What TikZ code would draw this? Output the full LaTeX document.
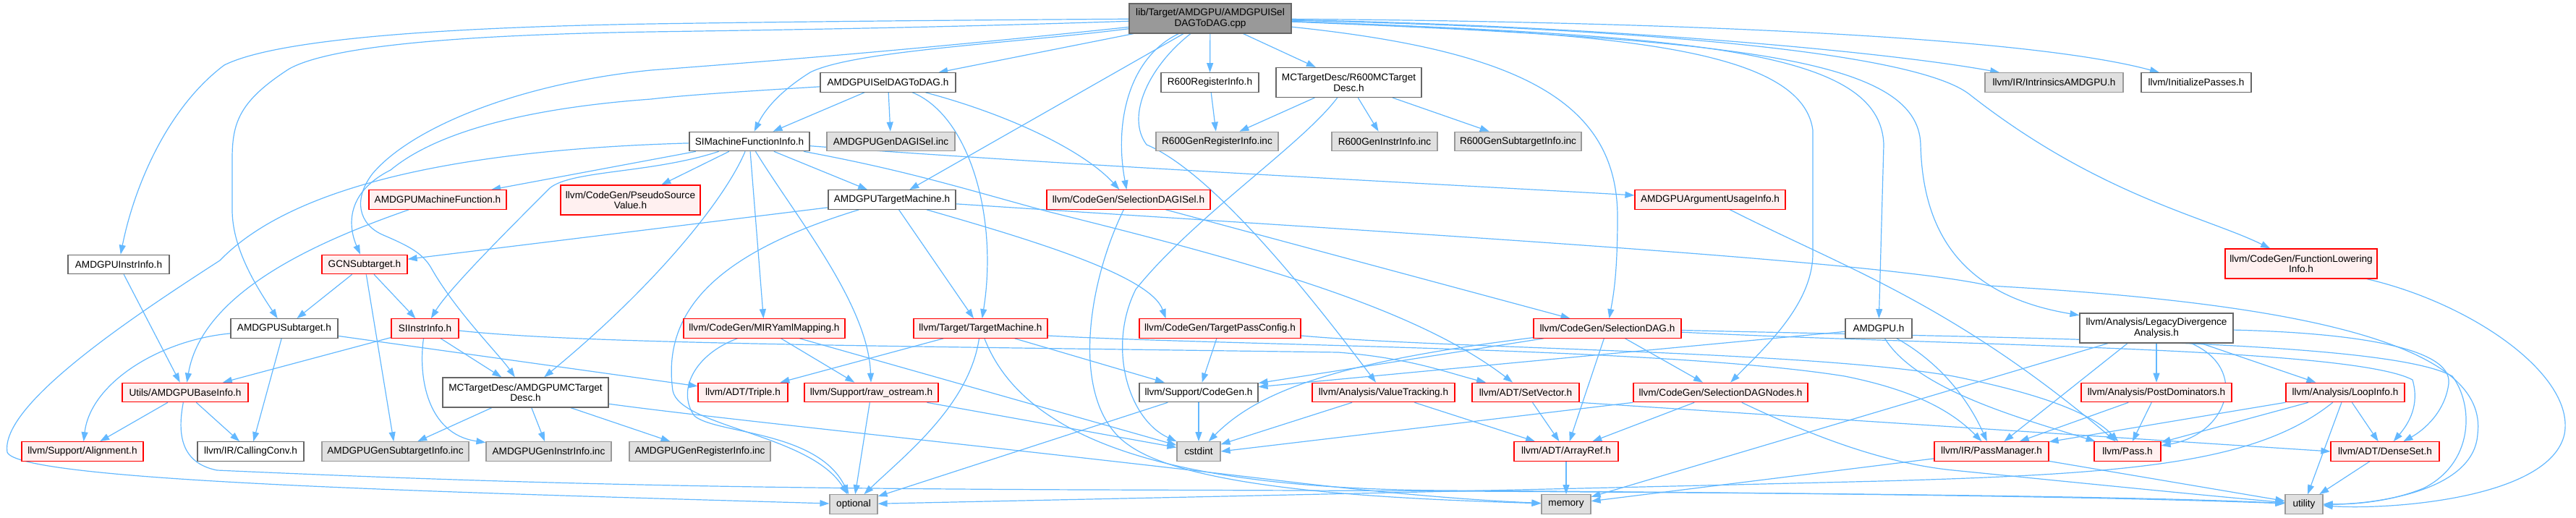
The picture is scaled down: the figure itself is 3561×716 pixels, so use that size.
\documentclass[tikz,border=0pt]{standalone}
\usepackage{fontspec}
\setmainfont{Liberation Sans}
\usetikzlibrary{arrows.meta,calc}
\definecolor{edgec}{HTML}{63B8FF}
\definecolor{redfill}{HTML}{FFF0F0}
\definecolor{grayfill}{HTML}{E0E0E0}
\definecolor{grayline}{HTML}{999999}
\definecolor{darkline}{HTML}{666666}
\definecolor{mainfill}{HTML}{999999}
\pgfdeclarelayer{bg}
\pgfsetlayers{bg,main}
\tikzset{
 box/.style={draw, line width=0.6pt, inner sep=0pt, minimum height=13.25pt, align=center, font=\fontsize{6.8pt}{7.3pt}\selectfont, text=black},
 wb/.style={box, draw=darkline, fill=white},
 rb/.style={box, draw=red, fill=redfill},
 gb/.style={box, draw=grayline, fill=grayfill},
 mb/.style={box, draw=darkline, fill=mainfill},
 tall/.style={minimum height=20.5pt},
 e/.style={draw=edgec, line width=0.6pt, -{Triangle[length=6.5pt,width=4.5pt]}},
}
\begin{document}
\begin{tikzpicture}[x=0.5pt,y=-0.5pt]
\useasboundingbox (0,0) rectangle (3561,716);
% row 0
\node[mb,tall,minimum width=112pt] (main) at (1673,25.5) {lib/Target/AMDGPU/AMDGPUISel\\DAGToDAG.cpp};
% row 1
\node[wb,minimum width=93.5pt] (isel) at (1227.5,114) {AMDGPUISelDAGToDAG.h};
\node[wb,minimum width=67.5pt] (r600reg) at (1672.5,114) {R600RegisterInfo.h};
\node[wb,tall,minimum width=100.5pt] (r600mc) at (1864.5,114) {MCTargetDesc/R600MCTarget\\Desc.h};
\node[gb,minimum width=95.5pt] (intr) at (2839.5,114) {llvm/IR/IntrinsicsAMDGPU.h};
\node[wb,minimum width=76pt] (initp) at (3036,114) {llvm/InitializePasses.h};
% row 2
\node[wb,minimum width=83pt] (simfi) at (1036,195.5) {SIMachineFunctionInfo.h};
\node[gb,minimum width=88.5pt] (gendag) at (1231.5,195.5) {AMDGPUGenDAGISel.inc};
\node[gb,minimum width=84.5pt] (r600genreg) at (1682.5,195.5) {R600GenRegisterInfo.inc};
\node[gb,minimum width=73pt] (r600geninstr) at (1914,195.5) {R600GenInstrInfo.inc};
\node[gb,minimum width=87.5pt] (r600gensub) at (2098.5,195.5) {R600GenSubtargetInfo.inc};
% row 3
\node[rb,minimum width=95pt] (amdmf) at (605,276) {AMDGPUMachineFunction.h};
\node[rb,tall,minimum width=96.5pt] (psv) at (871.5,276.5) {llvm/CodeGen/PseudoSource\\Value.h};
\node[wb,minimum width=88pt] (amdtm) at (1233,276) {AMDGPUTargetMachine.h};
\node[rb,minimum width=113pt] (sdisel) at (1560,276) {llvm/CodeGen/SelectionDAGISel.h};
\node[rb,minimum width=104pt] (argui) at (2364,276) {AMDGPUArgumentUsageInfo.h};
\node[rb,tall,minimum width=105pt] (flinfo) at (3181,364.5) {llvm/CodeGen/FunctionLowering\\Info.h};
% row 4
\node[wb,minimum width=70pt] (instrinfo) at (164,365.5) {AMDGPUInstrInfo.h};
\node[rb,minimum width=59pt] (gcn) at (504,365.5) {GCNSubtarget.h};
% row 5
\node[wb,minimum width=74pt] (amdsub) at (393,454) {AMDGPUSubtarget.h};
\node[rb,minimum width=46.5pt] (siinstr) at (587.5,454) {SIInstrInfo.h};
\node[rb,minimum width=111.5pt] (miryaml) at (1056.5,454) {llvm/CodeGen/MIRYamlMapping.h};
\node[rb,minimum width=92.5pt] (tm) at (1355.5,454) {llvm/Target/TargetMachine.h};
\node[rb,minimum width=111.5pt] (tpc) at (1686.5,454) {llvm/CodeGen/TargetPassConfig.h};
\node[rb,minimum width=102pt] (sdag) at (2222,454) {llvm/CodeGen/SelectionDAG.h};
\node[wb,minimum width=46pt] (amdgpu) at (2597,454) {AMDGPU.h};
\node[wb,tall,minimum width=106pt] (lda) at (2981,453.5) {llvm/Analysis/LegacyDivergence\\Analysis.h};
% row 6
\node[rb,minimum width=87pt] (basei) at (256,542.5) {Utils/AMDGPUBaseInfo.h};
\node[wb,tall,minimum width=114.5pt] (amdmc) at (726.5,542.5) {MCTargetDesc/AMDGPUMCTarget\\Desc.h};
\node[rb,minimum width=62pt] (triple) at (1027,542.5) {llvm/ADT/Triple.h};
\node[rb,minimum width=92.5pt] (rawos) at (1204.5,542.5) {llvm/Support/raw\_ostream.h};
\node[wb,minimum width=82pt] (cg) at (1657,542.5) {llvm/Support/CodeGen.h};
\node[rb,minimum width=98.5pt] (vt) at (1912.5,542.5) {llvm/Analysis/ValueTracking.h};
\node[rb,minimum width=74pt] (setv) at (2109,542.5) {llvm/ADT/SetVector.h};
\node[rb,minimum width=120.5pt] (sdn) at (2378.5,542.5) {llvm/CodeGen/SelectionDAGNodes.h};
\node[rb,minimum width=104pt] (pdom) at (2981,542.5) {llvm/Analysis/PostDominators.h};
\node[rb,minimum width=82pt] (loop) at (3242,542.5) {llvm/Analysis/LoopInfo.h};
% row 7
\node[rb,minimum width=84pt] (align) at (114,624) {llvm/Support/Alignment.h};
\node[wb,minimum width=73.5pt] (cconv) at (346.5,624) {llvm/IR/CallingConv.h};
\node[gb,minimum width=101.5pt] (gensub) at (546.5,624) {AMDGPUGenSubtargetInfo.inc};
\node[gb,minimum width=86.5pt] (geninstr) at (758.5,624) {AMDGPUGenInstrInfo.inc};
\node[gb,minimum width=97.5pt] (genreg) at (967.5,624) {AMDGPUGenRegisterInfo.inc};
\node[gb,minimum width=30pt] (cstdint) at (1657,624) {cstdint};
\node[rb,minimum width=72pt] (aref) at (2165,624) {llvm/ADT/ArrayRef.h};
\node[rb,minimum width=79pt] (pm) at (2753,624) {llvm/IR/PassManager.h};
\node[rb,minimum width=46pt] (pass) at (2941,624) {llvm/Pass.h};
\node[rb,minimum width=75pt] (dset) at (3297,624) {llvm/ADT/DenseSet.h};
% row 8
\node[gb,minimum width=33pt] (optional) at (1180,697) {optional};
\node[gb,minimum width=34pt] (memory) at (2165,697) {memory};
\node[gb,minimum width=26pt] (utility) at (3185,697) {utility};

\begin{pgfonlayer}{bg}
% main
\draw[e] (main) -- (isel);
\draw[e] (main) -- (r600reg);
\draw[e] (main) -- (r600mc);
\draw[e] (main) -- (amdtm);
\draw[e] (main) .. controls (1560,80) and (1540,170) .. (sdisel);
\draw[e] (main) .. controls (1400,60) and (1180,70) .. (1120,100) .. controls (1080,125) and (1058,150) .. (simfi);
\draw[e] (main) .. controls (1300,28) and (1100,30) .. (900,33) .. controls (600,38) and (380,55) .. (310,90) .. controls (230,150) and (185,260) .. (instrinfo);
\draw[e] (main) .. controls (1300,38) and (1100,41) .. (900,44) .. controls (650,48) and (460,62) .. (400,95) .. controls (330,140) and (321,170) .. (321,220) -- (321,290) .. controls (321,340) and (350,390) .. (amdsub);
\draw[e] (main) .. controls (1300,65) and (1100,82) .. (900,97) .. controls (720,115) and (570,175) .. (515,240) .. controls (488,275) and (495,310) .. (530,325) .. controls (565,340) and (585,350) .. (597,372) .. controls (630,430) and (690,490) .. (amdmc);
\draw[e] (main) .. controls (1590,90) and (1555,160) .. (1585,200) .. controls (1680,240) and (1820,420) .. (vt);
\draw[e] (main) .. controls (2100,70) and (2236,140) .. (2236,300) .. controls (2236,380) and (2230,410) .. (sdag);
\draw[e] (main) .. controls (2200,45) and (2490,60) .. (2506,180) -- (2506,350) .. controls (2506,420) and (2440,480) .. (sdn);
\draw[e] (main) .. controls (2350,50) and (2600,70) .. (2604,200) -- (amdgpu);
\draw[e] (main) .. controls (2400,55) and (2652,80) .. (2655,200) .. controls (2658,330) and (2720,410) .. (lda);
\draw[e] (main) .. controls (2300,40) and (2650,75) .. (2722,130) .. controls (2900,270) and (3050,300) .. (flinfo);
\draw[e] (main) .. controls (2200,35) and (2600,70) .. (intr);
\draw[e] (main) .. controls (2300,30) and (2800,50) .. (initp);
% isel
\draw[e] (isel) -- (simfi);
\draw[e] (isel) -- (gendag);
\draw[e] (isel) .. controls (1340,160) and (1380,300) .. (tm);
\draw[e] (isel) .. controls (1400,160) and (1500,210) .. (sdisel);
\draw[e] (isel) .. controls (1050,125) and (950,131) .. (900,137) .. controls (720,150) and (600,185) .. (540,235) .. controls (480,265) and (480,310) .. (gcn);
% r600
\draw[e] (r600reg) -- (r600genreg);
\draw[e] (r600mc) -- (r600genreg);
\draw[e] (r600mc) -- (r600geninstr);
\draw[e] (r600mc) -- (r600gensub);
\draw[e] (r600mc) .. controls (1800,200) and (1650,300) .. (1570,400) .. controls (1530,480) and (1560,580) .. (cstdint);
% simfi
\draw[e] (simfi) .. controls (1500,230) and (2000,255) .. (argui);
\draw[e] (simfi) -- (amdmf);
\draw[e] (simfi) -- (psv);
\draw[e] (simfi) -- (amdtm);
\draw[e] (simfi) .. controls (900,240) and (790,235) .. (760,260) .. controls (700,320) and (620,400) .. (siinstr);
\draw[e] (simfi) .. controls (1000,280) and (900,400) .. (amdmc);
\draw[e] (simfi) -- (miryaml);
\draw[e] (simfi) .. controls (1100,300) and (1200,420) .. (rawos);
\draw[e] (simfi) .. controls (1250,235) and (1330,260) .. (1447,292) .. controls (1700,355) and (1950,420) .. (setv);
\draw[e] (simfi) .. controls (700,205) and (420,240) .. (304,360) .. controls (180,440) and (0,560) .. (10,625) .. controls (25,665) and (600,680) .. (optional);
% amdmf
\draw[e] (amdmf) .. controls (450,330) and (280,400) .. (basei);
% amdtm
\draw[e] (amdtm) -- (gcn);
\draw[e] (amdtm) -- (tm);
\draw[e] (amdtm) .. controls (1420,330) and (1590,380) .. ($(tpc.north)+(-75,0)$);
\draw[e] (amdtm) .. controls (990,350) and (915,430) .. (930,540) .. controls (940,590) and (1120,600) .. (optional);
\draw[e] (amdtm) .. controls (1900,320) and (2600,360) .. (2750,395) .. controls (3200,420) and (3440,480) .. (3425,600) .. controls (3420,680) and (3280,697) .. (utility);
% sdisel
\draw[e] (sdisel) -- (sdag);
\draw[e] (sdisel) .. controls (1500,400) and (1480,560) .. (1560,615) .. controls (1650,680) and (1950,690) .. (memory);
% argui, flinfo
\draw[e] (argui) .. controls (2550,370) and (2700,420) .. (pass);
\draw[e] (flinfo) .. controls (3420,420) and (3560,520) .. (3545,600) .. controls (3525,690) and (3300,705) .. (utility);
% left cluster
\draw[e] (instrinfo) -- (basei);
\draw[e] (gcn) -- (amdsub);
\draw[e] (gcn) -- (siinstr);
\draw[e] (gcn) -- (gensub);
\draw[e] (amdsub) -- (cconv);
\draw[e] (amdsub) .. controls (220,470) and (125,530) .. (align);
\draw[e] (amdsub) -- (triple);
\draw[e] (siinstr) -- (basei);
\draw[e] (siinstr) -- (amdmc);
\draw[e] (siinstr) .. controls (578,520) and (590,600) .. (geninstr);
\draw[e] ($(siinstr.east)+(0,3)$) .. controls (800,475) and (1200,478) .. (1850,487) .. controls (1950,495) and (2000,515) .. (setv);
\draw[e] (basei) -- (align);
\draw[e] (basei) -- (cconv);
\draw[e] (basei) .. controls (245,600) and (250,640) .. (300,650) .. controls (700,668) and (1000,675) .. (1500,677) .. controls (2200,679) and (2900,683) .. (utility);
\draw[e] (amdmc) -- (gensub);
\draw[e] (amdmc) -- (geninstr);
\draw[e] (amdmc) -- (genreg);
\draw[e] (amdmc) .. controls (1000,580) and (1400,620) .. (1800,668) .. controls (1950,685) and (2050,692) .. (memory);
% middle
\draw[e] (miryaml) -- (rawos);
\draw[e] (miryaml) -- (cstdint);
\draw[e] (miryaml) .. controls (960,490) and (935,540) .. (960,575) .. controls (990,600) and (1130,595) .. (optional);
\draw[e] (rawos) -- (optional);
\draw[e] (rawos) -- (cstdint);
\draw[e] (tm) -- (triple);
\draw[e] (tm) -- (cg);
\draw[e] (tm) .. controls (1340,560) and (1250,630) .. (optional);
\draw[e] ($(tm.east)+(0,10)$) .. controls (1700,478) and (2300,480) .. (2550,520) .. controls (2650,540) and (2700,570) .. (pm);
\draw[e] (tm) .. controls (1420,620) and (1650,676) .. (2000,678) .. controls (2600,682) and (2950,688) .. (utility);
\draw[e] (tpc) -- (cg);
\draw[e] (tpc) .. controls (2000,482) and (2500,485) .. (2700,520) .. controls (2850,550) and (2900,580) .. (pass);
\draw[e] (cg) -- (cstdint);
\draw[e] (cg) -- (optional);
\draw[e] (vt) -- (aref);
\draw[e] (vt) -- (cstdint);
\draw[e] (setv) -- (aref);
\draw[e] (setv.south east) -- (dset.west);
\draw[e] (sdag) -- (aref);
\draw[e] (sdag) -- (sdn);
\draw[e] (sdag) -- (cg);
\draw[e] (sdag) .. controls (1850,500) and (1740,540) .. (cstdint);
\draw[e] (sdag) .. controls (2700,478) and (3250,480) .. (3335,525) .. controls (3345,560) and (3330,585) .. (dset);
\draw[e] (sdag) .. controls (2800,468) and (3300,470) .. (3390,520) .. controls (3420,560) and (3420,640) .. (3350,675) .. controls (3300,695) and (3250,697) .. (utility);
\draw[e] (amdgpu) -- (cg);
\draw[e] (amdgpu) .. controls (2680,500) and (2720,550) .. (pm);
\draw[e] (amdgpu) .. controls (2650,540) and (2800,580) .. (pass);
\draw[e] (sdn) -- (aref);
\draw[e] (sdn.south west) -- (cstdint.east);
\draw[e] (sdn) .. controls (2500,600) and (2600,640) .. (2700,650) .. controls (2900,670) and (3050,685) .. (utility);
\draw[e] (aref) -- (memory);
% right cluster
\draw[e] (pm) -- (memory);
\draw[e] (pm) -- (utility);
\draw[e] (pdom) -- (pm);
\draw[e] (pdom) -- (pass);
\draw[e] (loop) -- (pm);
\draw[e] (loop) -- (pass);
\draw[e] (loop) -- (dset);
\draw[e] (loop) -- (utility);
\draw[e] (loop) .. controls (3120,640) and (2950,655) .. (2600,665) .. controls (2000,680) and (1500,690) .. (optional);
\draw[e] (lda) -- (pdom);
\draw[e] (lda) -- (loop);
\draw[e] (lda) .. controls (3110,510) and (3080,600) .. (pass);
\draw[e] ($(lda.south)+(-40,0)$) -- (pm);
\draw[e] ($(lda.south)+(-67,0)$) -- (memory);
\draw[e] (lda) .. controls (3250,460) and (3390,480) .. (3385,530) .. controls (3380,570) and (3350,595) .. (dset);
\draw[e] (dset) -- (utility);
\end{pgfonlayer}
\end{tikzpicture}
\end{document}
